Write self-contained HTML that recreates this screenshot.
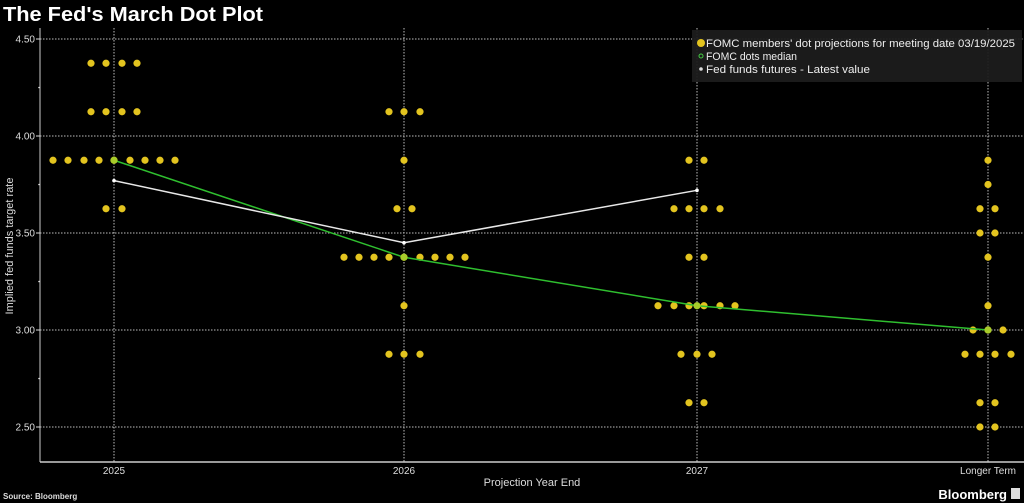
<!DOCTYPE html>
<html><head><meta charset="utf-8"><style>
html,body{margin:0;padding:0;background:#000;}
body{width:1024px;height:503px;overflow:hidden;font-family:"Liberation Sans",sans-serif;}
</style></head><body>
<svg id="s" width="1024" height="503" xmlns="http://www.w3.org/2000/svg" style="display:block">
<rect width="1024" height="503" fill="#000"/>
<text x="3" y="21" fill="#fff" font-size="20" font-weight="bold" font-family="Liberation Sans,sans-serif" textLength="260" lengthAdjust="spacingAndGlyphs">The Fed's March Dot Plot</text>
<g id="grid" stroke="#bbb" stroke-width="1" stroke-dasharray="1.5,1.5"></g>
<line x1="40" y1="28" x2="40" y2="462" stroke="#ccc" stroke-width="1"/>
<line x1="40" y1="462" x2="1024" y2="462" stroke="#ccc" stroke-width="1.5"/>
<g id="ylab" fill="#ddd" font-size="10" text-anchor="end"></g>
<text transform="translate(13,246) rotate(-90)" fill="#ddd" font-size="11" text-anchor="middle">Implied fed funds target rate</text>
<g fill="#ddd" font-size="10" text-anchor="middle">
<text x="114" y="474">2025</text><text x="404" y="474">2026</text><text x="697" y="474">2027</text><text x="988" y="474">Longer Term</text>
</g>
<text x="532" y="486" fill="#ddd" font-size="11" text-anchor="middle">Projection Year End</text>
<text x="3" y="499" fill="#ddd" font-size="8" font-weight="bold">Source: Bloomberg</text>
<text x="1007" y="499" fill="#fff" font-size="13" font-weight="bold" text-anchor="end">Bloomberg</text>
<rect x="1011" y="488" width="9" height="11" fill="#ddd"/>
<g id="dots" fill="#e3c41f"></g>
<g id="lines"></g>
<rect x="692" y="30" width="330" height="52" fill="#1c1c1c" opacity="0.95"/>
<circle cx="701" cy="43" r="4" fill="#e3c41f"/>
<circle cx="701" cy="56" r="2" fill="none" stroke="#4c4" stroke-width="1"/>
<circle cx="701" cy="69" r="1.8" fill="#ddd"/>
<g fill="#eee" font-size="11">
<text x="706" y="47" textLength="309" lengthAdjust="spacingAndGlyphs">FOMC members' dot projections for meeting date 03/19/2025</text>
<text x="706" y="60" textLength="91" lengthAdjust="spacingAndGlyphs">FOMC dots median</text>
<text x="706" y="73" textLength="164" lengthAdjust="spacingAndGlyphs">Fed funds futures - Latest value</text>
</g>
</svg>
<script>
var NS="http://www.w3.org/2000/svg";
function Y(v){return 39+(4.5-v)*194;}
function el(p,t,a){var e=document.createElementNS(NS,t);for(var k in a)e.setAttribute(k,a[k]);document.getElementById(p).appendChild(e);return e;}
[4.5,4.0,3.5,3.0,2.5].forEach(function(v){var y=Y(v);el("grid","line",{x1:40,y1:y,x2:1024,y2:y});
var t=el("ylab","text",{x:35,y:y+3.5});t.textContent=v.toFixed(2);
el("ylab","line",{x1:36,y1:y,x2:40,y2:y,stroke:"#ddd"});});
[4.25,3.75,3.25,2.75].forEach(function(v){el("ylab","circle",{cx:39,cy:Y(v),r:0.8});});
[114,404,697,988].forEach(function(x){el("grid","line",{x1:x,y1:28,x2:x,y2:462});});
var D=[
[4.375,[91,106,122,137]],[4.125,[91,106,122,137]],[3.875,[53,68,84,99,114,130,145,160,175]],[3.625,[106,122]],
[4.125,[389,404,420]],[3.875,[404]],[3.625,[397,412]],[3.375,[344,359,374,389,404,420,435,450,465]],[3.125,[404]],[2.875,[389,404,420]],
[3.875,[689,704]],[3.625,[674,689,704,720]],[3.375,[689,704]],[3.125,[658,674,689,704,720,735]],[2.875,[681,697,712]],[2.625,[689,704]],
[3.875,[988]],[3.75,[988]],[3.625,[980,995]],[3.5,[980,995]],[3.375,[988]],[3.125,[988]],[3.0,[973,988,1003]],[2.875,[965,980,995,1011]],[2.625,[980,995]],[2.5,[980,995]]];
D.forEach(function(r){r[1].forEach(function(x){el("dots","circle",{cx:x,cy:Y(r[0]),r:3.6});});});
var g=[[114,3.875],[404,3.375],[697,3.125],[988,3.0]];
el("lines","polyline",{points:g.map(function(p){return p[0]+","+Y(p[1]);}).join(" "),fill:"none",stroke:"#2fbf2f","stroke-width":1.5});
g.forEach(function(p){el("lines","circle",{cx:p[0],cy:Y(p[1]),r:3.6,fill:"#a8cc2a"});});
var w=[[114,3.77],[404,3.45],[697,3.72]];
el("lines","polyline",{points:w.map(function(p){return p[0]+","+Y(p[1]);}).join(" "),fill:"none",stroke:"#e8e8e8","stroke-width":1.5});
w.forEach(function(p){el("lines","circle",{cx:p[0],cy:Y(p[1]),r:1.8,fill:"#fff"});});
</script>
</body></html>
